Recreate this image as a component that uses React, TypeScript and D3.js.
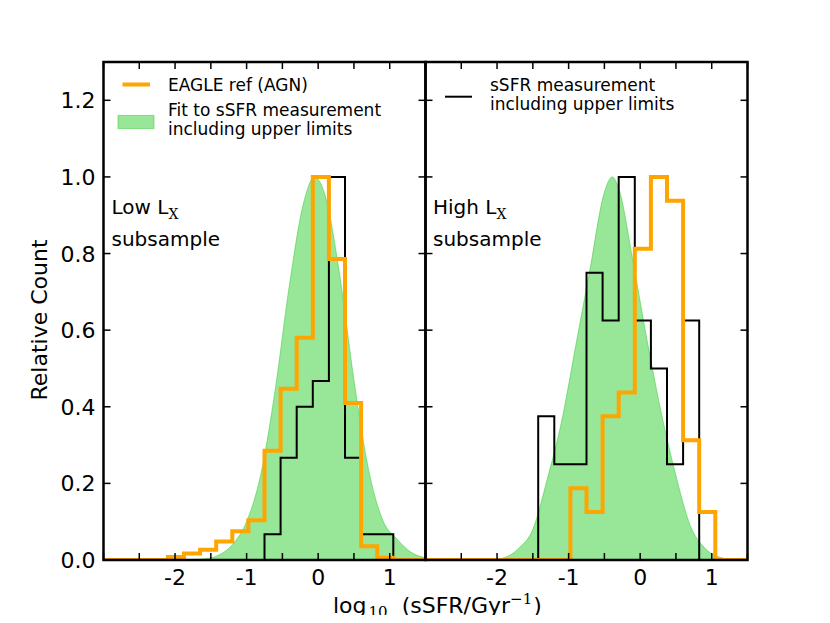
import * as d3 from 'd3'
import { useEffect, useRef } from 'react'

const WIDTH = 830
const HEIGHT = 623
const PLOT_TOP = 62
const PLOT_BOTTOM = 560
const PANEL_X = [103.5, 425.5]
const PANEL_W = 322
const TICK = 7
const FONT = "'DejaVu Sans', sans-serif"
const SERIF = "'DejaVu Serif', serif"

// histogram bin edges (log10 sSFR)
const binEdges = [
  -3, -2.775, -2.55, -2.325, -2.1, -1.875, -1.65, -1.425, -1.2, -0.975, -0.75, -0.525, -0.3,
  -0.075, 0.15, 0.375, 0.6, 0.825, 1.05, 1.275, 1.5,
]

// low L_X panel
const lowEagle = [
  0, 0, 0, 0, 0.008, 0.017, 0.027, 0.048, 0.075, 0.104, 0.285, 0.447, 0.58, 1.0, 0.786, 0.41,
  0.036, 0.006, 0, 0,
]
const lowMeasured = [
  0, 0, 0, 0, 0, 0, 0, 0, 0, 0, 0.067, 0.267, 0.4, 0.467, 1.0, 0.267, 0.067, 0.067, 0, 0,
]
const lowFitX = [
  -3, -2, -1.8, -1.6, -1.4, -1.2, -1.0, -0.8, -0.6, -0.4, -0.2, -0.05, 0.1, 0.3, 0.5, 0.7, 0.9,
  1.1, 1.3, 1.5,
]
const lowFitY = [
  0, 0, 0.001, 0.003, 0.012, 0.04, 0.1, 0.225, 0.445, 0.72, 0.935, 1.0, 0.95, 0.745, 0.47, 0.24,
  0.105, 0.055, 0.02, 0.006,
]

// high L_X panel
const highEagle = [
  0, 0, 0, 0, 0, 0, 0, 0, 0, 0.1875, 0.125, 0.375, 0.4375, 0.8125, 1.0, 0.9375, 0.3125, 0.125, 0,
  0,
]
const highMeasured = [
  0, 0, 0, 0, 0, 0, 0, 0.375, 0.25, 0.25, 0.75, 0.625, 1.0, 0.625, 0.5, 0.25, 0.625, 0, 0, 0,
]
const highFitX = [
  -3, -2.1, -1.9, -1.7, -1.5, -1.3, -1.1, -0.9, -0.7, -0.5, -0.39, -0.3, -0.1, 0.1, 0.3, 0.5, 0.7,
  0.9, 1.1, 1.3, 1.5,
]
const highFitY = [
  0, 0, 0.006, 0.03, 0.08, 0.21, 0.36, 0.56, 0.76, 0.96, 1.0, 0.97, 0.78, 0.57, 0.38, 0.22, 0.09,
  0.032, 0.008, 0.001, 0,
]

const xTicks = [-3, -2.5, -2, -1.5, -1, -0.5, 0, 0.5, 1, 1.5]
const xTickLabels = [-2, -1, 0, 1]
const yTicks = [0, 0.2, 0.4, 0.6, 0.8, 1.0, 1.2]

const ORANGE = '#ffa500'
const GREEN = 'limegreen'

type Sel = d3.Selection<SVGGElement, undefined, null, undefined>

interface PanelData {
  eagle: number[]
  measured: number[]
  fitX: number[]
  fitY: number[]
}

const stepPoints = (values: number[], trim: boolean): [number, number][] => {
  let i0 = 0
  let i1 = values.length - 1
  if (trim) {
    while (i0 < values.length && values[i0] === 0) i0++
    while (i1 > 0 && values[i1] === 0) i1--
  }
  const pts: [number, number][] = [[binEdges[i0], 0]]
  for (let i = i0; i <= i1; i++) {
    pts.push([binEdges[i], values[i]])
    pts.push([binEdges[i + 1], values[i]])
  }
  pts.push([binEdges[i1 + 1], 0])
  return pts
}

function drawPanel(root: Sel, idx: number, data: PanelData) {
  const x0 = PANEL_X[idx]
  const x = d3.scaleLinear([-3, 1.5], [x0, x0 + PANEL_W])
  const y = d3.scaleLinear([0, 1.3], [PLOT_BOTTOM, PLOT_TOP])
  const g = root.append('g')

  const clipId = `clip-${idx}`
  g.append('clipPath')
    .attr('id', clipId)
    .append('rect')
    .attr('x', x0)
    .attr('y', PLOT_TOP)
    .attr('width', PANEL_W)
    .attr('height', PLOT_BOTTOM - PLOT_TOP)
  const inner = g.append('g').attr('clip-path', `url(#${clipId})`)

  const fitPts = data.fitX.map((v, i) => [v, data.fitY[i]] as [number, number])
  const area = d3
    .area<[number, number]>()
    .x((d) => x(d[0]))
    .y0(y(0))
    .y1((d) => y(d[1]))
    .curve(d3.curveMonotoneX)
  inner
    .append('path')
    .attr('d', area(fitPts))
    .attr('fill', GREEN)
    .attr('fill-opacity', 0.5)
    .attr('stroke', GREEN)
    .attr('stroke-opacity', 0.5)
    .attr('stroke-width', 1)

  const line = d3
    .line<[number, number]>()
    .x((d) => x(d[0]))
    .y((d) => y(d[1]))
  inner
    .append('path')
    .attr('d', line(stepPoints(data.measured, true)))
    .attr('fill', 'none')
    .attr('stroke', 'black')
    .attr('stroke-width', 2)
  inner
    .append('path')
    .attr('d', line(stepPoints(data.eagle, false)))
    .attr('fill', 'none')
    .attr('stroke', ORANGE)
    .attr('stroke-width', 4)
    .attr('stroke-linejoin', 'miter')

  // ticks (inward, all four sides)
  const ticks = g.append('g').attr('stroke', 'black').attr('stroke-width', 1.5)
  xTicks.forEach((t) => {
    ticks.append('line').attr('x1', x(t)).attr('x2', x(t)).attr('y1', PLOT_BOTTOM).attr('y2', PLOT_BOTTOM - TICK)
    ticks.append('line').attr('x1', x(t)).attr('x2', x(t)).attr('y1', PLOT_TOP).attr('y2', PLOT_TOP + TICK)
  })
  yTicks.forEach((t) => {
    ticks.append('line').attr('x1', x0).attr('x2', x0 + TICK).attr('y1', y(t)).attr('y2', y(t))
    ticks.append('line').attr('x1', x0 + PANEL_W).attr('x2', x0 + PANEL_W - TICK).attr('y1', y(t)).attr('y2', y(t))
  })

  g.append('rect')
    .attr('x', x0)
    .attr('y', PLOT_TOP)
    .attr('width', PANEL_W)
    .attr('height', PLOT_BOTTOM - PLOT_TOP)
    .attr('fill', 'none')
    .attr('stroke', 'black')
    .attr('stroke-width', 2.5)

  g.append('g')
    .selectAll('text')
    .data(xTickLabels)
    .join('text')
    .attr('x', (d) => x(d))
    .attr('y', 585)
    .attr('text-anchor', 'middle')
    .attr('font-family', FONT)
    .attr('font-size', 22)
    .text((d) => String(d))

  if (idx === 0) {
    g.append('g')
      .selectAll('text')
      .data(yTicks)
      .join('text')
      .attr('x', x0 - 8)
      .attr('y', (d) => y(d) + 8)
      .attr('text-anchor', 'end')
      .attr('font-family', FONT)
      .attr('font-size', 22)
      .text((d) => d.toFixed(1))
  }
}

function addLabel(g: Sel, x: number, word: string) {
  const t = g.append('text').attr('x', x).attr('y', 214).attr('font-family', FONT).attr('font-size', 20)
  t.append('tspan').text(`${word} L`)
  t.append('tspan').attr('font-family', SERIF).attr('font-size', 14).attr('dy', 5).text('X')
  g.append('text')
    .attr('x', x)
    .attr('y', 245.5)
    .attr('font-family', FONT)
    .attr('font-size', 20)
    .text('subsample')
}

function buildChart(): SVGSVGElement {
  const svg = d3
    .create('svg')
    .attr('width', WIDTH)
    .attr('height', HEIGHT)
    .attr('viewBox', [0, 0, WIDTH, HEIGHT])
    .style('display', 'block')
  const root = svg.append('g') as unknown as Sel
  root.append('rect').attr('width', WIDTH).attr('height', HEIGHT).attr('fill', 'white')

  drawPanel(root, 0, { eagle: lowEagle, measured: lowMeasured, fitX: lowFitX, fitY: lowFitY })
  drawPanel(root, 1, { eagle: highEagle, measured: highMeasured, fitX: highFitX, fitY: highFitY })

  addLabel(root, 111.5, 'Low')
  addLabel(root, 433, 'High')

  // left legend
  const leg = root.append('g').attr('font-family', FONT).attr('font-size', 17)
  leg.append('line').attr('x1', 122.5).attr('x2', 150).attr('y1', 84.5).attr('y2', 84.5)
    .attr('stroke', ORANGE).attr('stroke-width', 4)
  leg.append('text').attr('x', 168).attr('y', 90.7).text('EAGLE ref (AGN)')
  leg.append('rect').attr('x', 118).attr('y', 115.5).attr('width', 36).attr('height', 13)
    .attr('fill', GREEN).attr('fill-opacity', 0.5).attr('stroke', GREEN).attr('stroke-opacity', 0.5)
  leg.append('text').attr('x', 168).attr('y', 115.7).text('Fit to sSFR measurement')
  leg.append('text').attr('x', 168).attr('y', 135).text('including upper limits')

  // right legend
  leg.append('line').attr('x1', 445).attr('x2', 472).attr('y1', 96.7).attr('y2', 96.7)
    .attr('stroke', 'black').attr('stroke-width', 2)
  leg.append('text').attr('x', 490).attr('y', 90.7).text('sSFR measurement')
  leg.append('text').attr('x', 490).attr('y', 109.5).text('including upper limits')

  // axis labels
  root.append('text')
    .attr('transform', 'translate(47,320) rotate(-90)')
    .attr('text-anchor', 'middle')
    .attr('font-family', FONT)
    .attr('font-size', 22)
    .text('Relative Count')

  const xl = root.append('text').attr('x', 333).attr('y', 613).attr('font-family', FONT).attr('font-size', 22)
  xl.append('tspan').text('log')
  xl.append('tspan').attr('font-family', SERIF).attr('font-size', 15).attr('dy', 4).attr('dx', 2).text('10')
  xl.append('tspan').attr('dy', -4).text('\u00a0 (sSFR/Gyr')
  xl.append('tspan').attr('font-family', SERIF).attr('font-size', 15).attr('dy', -9).text('\u22121')
  xl.append('tspan').attr('dy', 9).attr('dx', 1).text(')')

  return svg.node()!
}

export default function App() {
  const ref = useRef<HTMLDivElement>(null)
  useEffect(() => {
    const el = ref.current
    if (!el) return
    const node = buildChart()
    el.appendChild(node)
    return () => {
      el.removeChild(node)
    }
  }, [])
  return <div ref={ref} style={{ margin: -8 }} />
}
